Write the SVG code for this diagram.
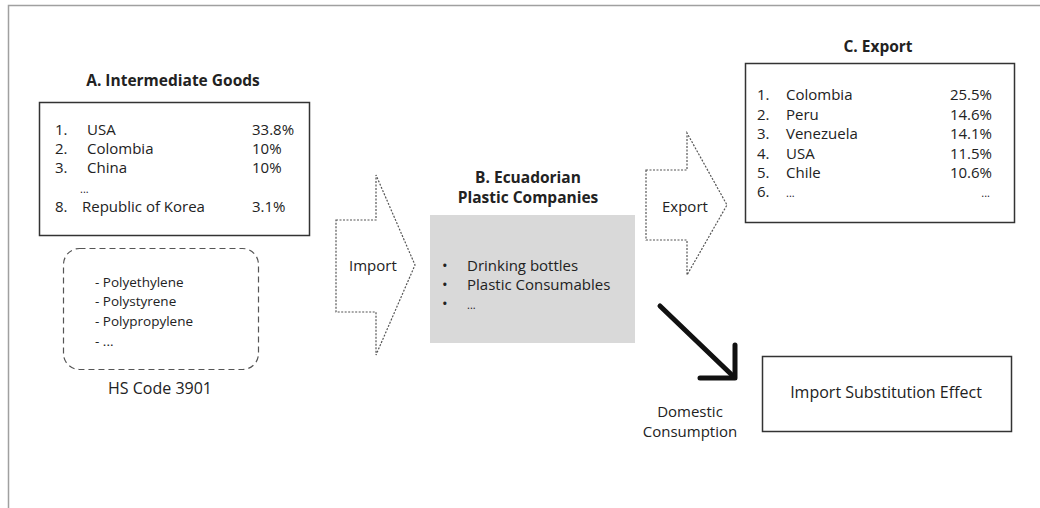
<svg xmlns="http://www.w3.org/2000/svg" width="1040" height="508" viewBox="0 0 1040 508">
  <style>
    text { font-family: "Open Sans", "Noto Sans", "Liberation Sans", sans-serif; fill: #222; }
    .t { font-size: 15px; }
    .big { font-size: 16px; }
    .title { font-size: 15.5px; font-weight: bold; text-anchor: middle; }
    .small { font-size: 13.5px; }
    .box { fill: #fff; stroke: #333; stroke-width: 1.5; }
    .flow { fill: #fff; stroke: #555; stroke-width: 1.2; stroke-dasharray: 2 1.5; }
    .mid { text-anchor: middle; }
    .end { text-anchor: end; }
  </style>

  <!-- page frame -->
  <g id="frame" fill="none" stroke="#a0a0a0" stroke-width="1.5">
    <path d="M8.5 508 V5.5 H1040"/>
  </g>

  <!-- A: intermediate goods -->
  <g id="node-a">
    <text class="title" x="173" y="86">A. Intermediate Goods</text>
    <rect class="box" x="39.5" y="102.5" width="270" height="133"/>
    <g class="t">
      <text x="55" y="135">1.</text><text x="87" y="135">USA</text><text x="252" y="135">33.8%</text>
      <text x="55" y="154">2.</text><text x="87" y="154">Colombia</text><text x="252" y="154">10%</text>
      <text x="55" y="173">3.</text><text x="87" y="173">China</text><text x="252" y="173">10%</text>
      <text x="80" y="193" style="font-size:11px">...</text>
      <text x="55" y="212">8.</text><text x="82" y="212">Republic of Korea</text><text x="252" y="212">3.1%</text>
    </g>
  </g>

  <!-- HS code 3901 group -->
  <g id="node-hs">
    <rect x="63.5" y="248.5" width="195" height="121" rx="16" ry="16" fill="#fff" stroke="#555" stroke-width="1.2" stroke-dasharray="6 4"/>
    <g class="small">
      <text x="95" y="287">- Polyethylene</text>
      <text x="95" y="306">- Polystyrene</text>
      <text x="95" y="326">- Polypropylene</text>
      <text x="95" y="346">- ...</text>
    </g>
    <text class="big mid" x="160" y="394">HS Code 3901</text>
  </g>

  <!-- B: companies -->
  <g id="node-b">
    <text class="title" x="528" y="183">B. Ecuadorian</text>
    <text class="title" x="528" y="203">Plastic Companies</text>
    <rect x="430" y="215" width="205" height="128" fill="#d9d9d9"/>
    <g class="t">
      <text x="442" y="271">•</text><text x="467" y="271">Drinking bottles</text>
      <text x="442" y="290">•</text><text x="467" y="290">Plastic Consumables</text>
      <text x="442" y="309">•</text><text x="467" y="309" style="font-size:11px">...</text>
    </g>
  </g>

  <!-- C: export destinations -->
  <g id="node-c">
    <text class="title" x="878" y="52">C. Export</text>
    <rect class="box" x="745.5" y="63.5" width="269" height="159"/>
    <g class="t">
      <text x="757" y="100">1.</text><text x="786" y="100">Colombia</text><text class="end" x="992" y="100">25.5%</text>
      <text x="757" y="120">2.</text><text x="786" y="120">Peru</text><text class="end" x="992" y="120">14.6%</text>
      <text x="757" y="139">3.</text><text x="786" y="139">Venezuela</text><text class="end" x="992" y="139">14.1%</text>
      <text x="757" y="159">4.</text><text x="786" y="159">USA</text><text class="end" x="992" y="159">11.5%</text>
      <text x="757" y="178">5.</text><text x="786" y="178">Chile</text><text class="end" x="992" y="178">10.6%</text>
      <text x="757" y="197">6.</text><text x="786" y="197" style="font-size:11px">...</text><text class="end" x="990" y="197" style="font-size:11px">...</text>
    </g>
  </g>

  <!-- import substitution -->
  <g id="node-d">
    <rect class="box" x="762.5" y="356.5" width="249" height="75"/>
    <text class="big mid" x="886" y="398">Import Substitution Effect</text>
  </g>

  <!-- connectors -->
  <g id="connectors">
    <g id="import-arrow">
      <path class="flow" d="M336 220 H376 V175 L415 265 L376 355 V312 H336 Z"/>
      <text class="t" x="349" y="271">Import</text>
    </g>
    <g id="export-arrow">
      <path class="flow" d="M646 170 H687 V133 L727 205 L687 275 V240 H646 Z"/>
      <text class="t" x="662" y="212">Export</text>
    </g>
    <g id="domestic-arrow" fill="none" stroke="#111" stroke-width="5" stroke-linecap="round" stroke-linejoin="round">
      <path d="M660 306 L734 377"/>
      <path d="M735 345 V378 H700"/>
    </g>
    <text class="t mid" x="690" y="417">Domestic</text>
    <text class="t mid" x="690" y="437">Consumption</text>
  </g>
</svg>
